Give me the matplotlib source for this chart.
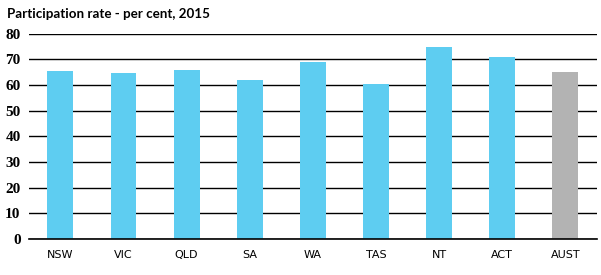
import matplotlib
matplotlib.use("Agg")
from matplotlib import pyplot as plt

states = ["NSW", "VIC", "QLD", "SA", "WA", "TAS", "NT", "ACT", "AUST"]
rates = [65.3, 64.5, 65.7, 62.1, 68.9, 60.5, 74.6, 71.0, 64.9]
colors = ["#5ECDF1"] * 8 + ["#B3B3B3"]
yticks = [0, 10, 20, 30, 40, 50, 60, 70, 80]

fig = plt.figure(figsize=(6.01, 2.75), dpi=100)
ax = fig.add_axes([0.048, 0.131, 0.945, 0.747])

x = range(len(states))
ax.bar(x, rates, width=0.41, color=colors, zorder=2)

ax.set_ylim(0, 80)
ax.set_xlim(-0.5, len(states) - 0.5)
ax.set_yticks(yticks)
ax.set_yticklabels([str(v) for v in yticks], fontfamily="Liberation Serif",
                   fontweight="bold", fontsize=11)
ax.set_xticks(list(x))
ax.set_xticklabels(states, fontfamily="DejaVu Sans", fontsize=8)
ax.tick_params(length=0, pad=8)
ax.tick_params(axis="y", pad=6)

ax.grid(axis="y", color="black", linewidth=1, zorder=1)
ax.axhline(0, color="black", linewidth=1.2, zorder=3, clip_on=False)
for s in ax.spines.values():
    s.set_visible(False)

fig.text(0.012, 0.95, "Participation rate - per cent, 2015", fontfamily="Lato",
         fontweight="bold", fontsize=9.6, va="center")

fig.savefig("out.png", dpi=100)
